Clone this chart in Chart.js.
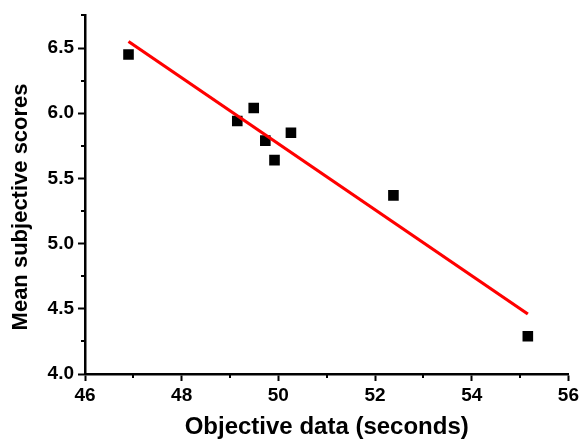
<!DOCTYPE html>
<html lang="en">
<head>
    <meta charset="UTF-8">
    <title>Objective vs subjective</title>
    <script src="https://cdn.jsdelivr.net/npm/chart.js"></script>
    <style>
        html, body { margin: 0; padding: 0; background: #fff; }
        #wrap { width: 582px; height: 443px; }
    </style>
</head>
<body>
    <div id="wrap"><canvas id="chart"></canvas></div>

    <script>
        // measured points
        const objectiveSec = [46.9, 49.15, 49.49, 49.73, 49.92, 50.26, 52.38, 55.16];
        const subjectiveScore = [6.45, 5.94, 6.04, 5.79, 5.64, 5.85, 5.37, 4.29];

        // fitted line end points
        const fitX = [46.9, 55.16];
        const fitY = [6.55, 4.46];

        const xTicks = [46, 48, 50, 52, 54, 56];
        const yTicks = [4.0, 4.5, 5.0, 5.5, 6.0, 6.5];
        const xMinor = [47, 49, 51, 53, 55];
        const yMinor = [4.25, 4.75, 5.25, 5.75, 6.25, 6.75];

        const font = "'Liberation Sans', Arial, sans-serif";

        // small outward ticks between the labelled ones
        const minorTicks = {
            id: 'minorTicks',
            afterDraw(chart) {
                const ctx = chart.ctx;
                const xs = chart.scales.x, ys = chart.scales.y;
                const area = chart.chartArea;
                ctx.save();
                ctx.strokeStyle = '#000';
                ctx.lineWidth = 2;
                xMinor.forEach(v => {
                    const px = Math.round(xs.getPixelForValue(v));
                    ctx.beginPath();
                    ctx.moveTo(px, area.bottom);
                    ctx.lineTo(px, area.bottom + 4);
                    ctx.stroke();
                });
                yMinor.forEach(v => {
                    const py = Math.round(ys.getPixelForValue(v));
                    ctx.beginPath();
                    ctx.moveTo(area.left, py);
                    ctx.lineTo(area.left - 4, py);
                    ctx.stroke();
                });
                ctx.restore();
            }
        };

        new Chart(document.getElementById('chart'), {
            type: 'scatter',
            data: {
                datasets: [
                    {
                        label: 'Fit',
                        type: 'line',
                        data: fitX.map((x, i) => ({ x: x, y: fitY[i] })),
                        borderColor: '#ff0000',
                        borderWidth: 3.2,
                        pointRadius: 0,
                        fill: false
                    },
                    {
                        label: 'Data',
                        data: objectiveSec.map((x, i) => ({ x: x, y: subjectiveScore[i] })),
                        pointStyle: 'rect',
                        pointRadius: 7.5,
                        pointHoverRadius: 7.5,
                        backgroundColor: '#000',
                        borderWidth: 0
                    }
                ]
            },
            options: {
                responsive: true,
                maintainAspectRatio: false,
                animation: false,
                layout: { padding: { top: 13, right: 12, left: 0, bottom: 0 } },
                plugins: { legend: { display: false }, tooltip: { enabled: false } },
                scales: {
                    x: {
                        type: 'linear',
                        min: 46, max: 56,
                        afterBuildTicks: s => { s.ticks = xTicks.map(v => ({ value: v })); },
                        afterFit: s => { s.height = 69; },
                        border: { color: '#000', width: 2.5 },
                        grid: { drawOnChartArea: false, color: '#000', tickLength: 7, tickWidth: 2 },
                        ticks: {
                            color: '#000',
                            padding: 3,
                            font: { family: font, size: 19, weight: 'bold' },
                            callback: v => String(v)
                        },
                        title: {
                            display: true,
                            text: 'Objective data (seconds)',
                            color: '#000',
                            padding: { top: 0, bottom: 1 },
                            font: { family: font, size: 24, weight: 'bold' }
                        }
                    },
                    y: {
                        type: 'linear',
                        min: 4.0, max: 6.75,
                        afterBuildTicks: s => { s.ticks = yTicks.map(v => ({ value: v })); },
                        afterFit: s => { s.width = 85; },
                        border: { color: '#000', width: 2.5 },
                        grid: { drawOnChartArea: false, color: '#000', tickLength: 7, tickWidth: 2 },
                        ticks: {
                            color: '#000',
                            padding: 4,
                            font: { family: font, size: 19, weight: 'bold' },
                            callback: v => Number(v).toFixed(1)
                        },
                        title: {
                            display: true,
                            // trailing spaces nudge the title down to sit where the original does
                            text: 'Mean subjective scores    ',
                            color: '#000',
                            padding: { top: 8, bottom: 0 },
                            font: { family: font, size: 22, weight: 'bold' }
                        }
                    }
                }
            },
            plugins: [minorTicks]
        });
    </script>
</body>
</html>
